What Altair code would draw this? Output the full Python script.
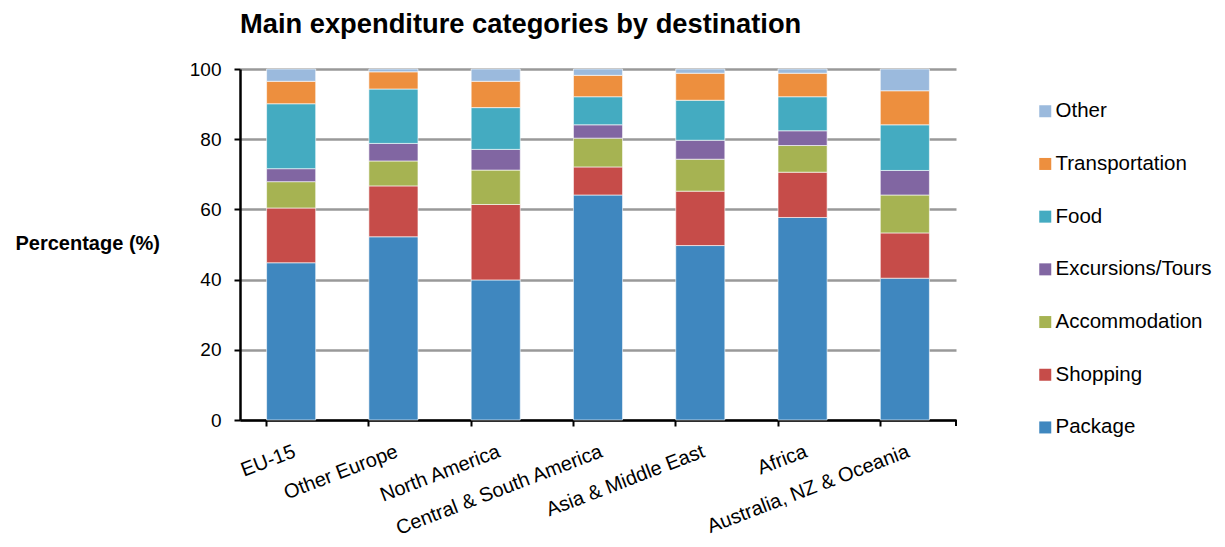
import altair as alt
import pandas as pd

categories = ["EU-15", "Other Europe", "North America", "Central & South America",
              "Asia & Middle East", "Africa", "Australia, NZ & Oceania"]
series_names = ["Package", "Shopping", "Accommodation", "Excursions/Tours",
                "Food", "Transportation", "Other"]
package = [44.8, 52.2, 39.9, 64.1, 49.7, 57.7, 40.4]
shopping = [15.6, 14.5, 21.5, 8.0, 15.5, 12.9, 12.9]
accommodation = [7.5, 7.1, 9.8, 8.2, 9.1, 7.6, 10.8]
excursions = [3.7, 5.0, 5.9, 3.8, 5.4, 4.2, 7.0]
food = [18.5, 15.5, 11.9, 8.0, 11.4, 9.7, 13.0]
transportation = [6.4, 4.9, 7.5, 6.1, 7.7, 6.7, 9.7]
other = [3.5, 0.8, 3.5, 1.8, 1.2, 1.2, 6.2]
colors = ["#3F87BF", "#C64C49", "#A6B352", "#8166A2", "#44ABC1", "#ED8F3E", "#9BBADD"]
y_ticks = [0, 20, 40, 60, 80, 100]

series_values = [package, shopping, accommodation, excursions, food, transportation, other]
rows = []
for si, (name, vals) in enumerate(zip(series_names, series_values)):
    for ci, cat in enumerate(categories):
        rows.append({"Destination": cat, "Category": name, "Value": vals[ci], "order": si})
df = pd.DataFrame(rows)

FONT = "Liberation Sans"
W, H = 716, 351

bars = alt.Chart(df).mark_bar(stroke="#ffffff", strokeWidth=1, strokeOpacity=0.6).encode(
    x=alt.X("Destination:N", sort=categories,
            scale=alt.Scale(paddingInner=0.52, paddingOuter=0.26),
            axis=alt.Axis(title=None, labelAngle=-21, labelAlign="right", labelBaseline="top",
                          labelFontSize=20, labelPadding=15, labelColor="#000000",
                          labelLimit=400, labelOverlap=False,
                          bandPosition=0, ticks=True, tickSize=6, tickWidth=2, tickColor="#000000",
                          domainColor="#000000", domainWidth=2.5, grid=False, labelFont=FONT)),
    y=alt.Y("Value:Q", stack="zero",
            scale=alt.Scale(domain=[0, 100], nice=False),
            axis=alt.Axis(values=y_ticks, title="Percentage (%)", titleAngle=0, titleAlign="left",
                          titleBaseline="middle", titleX=-225, titleY=H / 2 - 1,
                          titleFontSize=20, titleFontWeight="bold", titleFont=FONT,
                          titleColor="#000000",
                          labelFontSize=19, labelPadding=13, labelColor="#000000", labelFont=FONT,
                          tickSize=6, tickWidth=2, tickColor="#000000",
                          domainColor="#000000", domainWidth=2.5,
                          grid=True, gridColor="#999999", gridWidth=2.5)),
    color=alt.Color("Category:N",
                    scale=alt.Scale(domain=series_names[::-1], range=colors[::-1]),
                    legend=alt.Legend(title=None, orient="none", legendX=795, legendY=32,
                                      symbolType="square", symbolSize=144, symbolStrokeWidth=0,
                                      labelFontSize=20.5, labelFont=FONT, labelColor="#000000",
                                      labelOffset=0, rowPadding=31.7, padding=0,
                                      labelLimit=300)),
    order=alt.Order("order:Q", sort="ascending"),
)

end_tick = alt.Chart(df).mark_rule(color="#000000", strokeWidth=2).encode(
    x=alt.value(W), y=alt.value(H), y2=alt.value(H + 6)
)

chart = alt.layer(bars, end_tick).properties(
    width=W, height=H,
    title=alt.TitleParams("Main expenditure categories by destination", font=FONT,
                          fontSize=27.3, fontWeight="bold", color="#000000",
                          anchor="start", frame="group", offset=22),
    autosize=alt.AutoSizeParams(type="none"),
    padding={"left": 232, "top": 61, "right": 261, "bottom": 119},
).configure_view(stroke=None)

chart.save("out.html", embed_options={"renderer": "svg", "actions": False})
